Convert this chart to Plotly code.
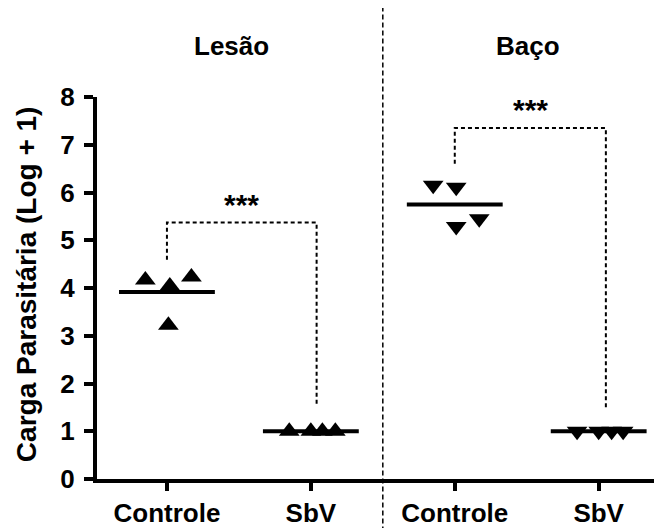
import plotly.graph_objects as go

# ---------------- data ----------------
categories = ["Controle", "SbV", "Controle", "SbV"]
group_titles = ["Lesão", "Baço"]
lesao_controle = [4.17, 4.04, 4.23, 3.22]
lesao_sbv = [1.0, 1.0, 1.0, 1.0]
baco_controle = [6.15, 6.11, 5.45, 5.29]
baco_sbv = [1.0, 1.0, 1.0, 1.0]
jitter_lesao_controle = [-0.15, 0.02, 0.17, 0.01]
jitter_lesao_sbv = [-0.15, 0.0, 0.08, 0.17]
jitter_baco_controle = [-0.15, 0.01, 0.17, 0.01]
jitter_baco_sbv = [-0.15, 0.0, 0.09, 0.17]
y_ticks = [0, 1, 2, 3, 4, 5, 6, 7, 8]
sig_label = "***"
# bracket: (left x idx, right x idx, top y, left end y, right end y)
brackets = [
    (0.0, 1.04, 5.37, 4.59, 1.57),
    (2.0, 3.05, 7.35, 6.60, 1.46),
]
y_label = "Carga Parasitária (Log + 1)"

FONT = "Liberation Sans, Arial, sans-serif"
XMIN, XMAX = -0.486, 3.44

groups = [
    (0, lesao_controle, jitter_lesao_controle, "triangle-up"),
    (1, lesao_sbv, jitter_lesao_sbv, "triangle-up"),
    (2, baco_controle, jitter_baco_controle, "triangle-down"),
    (3, baco_sbv, jitter_baco_sbv, "triangle-down"),
]

fig = go.Figure()
for idx, vals, jit, sym in groups:
    fig.add_trace(go.Scatter(
        x=[idx + j for j in jit], y=vals, mode="markers",
        marker=dict(symbol=sym, size=18, color="black", line=dict(width=0)),
        showlegend=False, hoverinfo="skip", cliponaxis=False))
    m = sum(vals) / len(vals)
    fig.add_trace(go.Scatter(
        x=[idx - 0.333, idx + 0.333], y=[m, m], mode="lines",
        line=dict(color="black", width=4), showlegend=False, hoverinfo="skip"))

shapes = []
annotations = []
for (xl, xr, top, yl, yr) in brackets:
    shapes.append(dict(type="path", xref="x", yref="y",
                       path=f"M {xl},{yl} L {xl},{top} L {xr},{top} L {xr},{yr}",
                       line=dict(color="black", width=2, dash="4px,3px")))
    annotations.append(dict(x=(xl + xr) / 2, y=top, xref="x", yref="y",
                            text=sig_label, showarrow=False, yanchor="bottom",
                            yshift=0,
                            font=dict(family=FONT, size=30, color="black", weight="bold")))

# vertical separator between the two groups (paper coords derived from axis range)
sep_x = (1.5 - XMIN) / (XMAX - XMIN)
shapes.append(dict(type="line", xref="paper", yref="paper", x0=sep_x, x1=sep_x,
                   y0=-0.2, y1=1.4,
                   line=dict(color="black", width=1.5, dash="5px,3px")))

for i, t in enumerate(group_titles):
    cx = (0.45 if i == 0 else 2.51)
    annotations.append(dict(x=(cx - XMIN) / (XMAX - XMIN), y=1.134, xref="paper", yref="paper",
                            text=t, showarrow=False, xanchor="center", yanchor="middle",
                            font=dict(family=FONT, size=26, color="black", weight="bold")))

annotations.append(dict(x=-0.1257, y=0.51, xref="paper", yref="paper", text=y_label,
                        textangle=-90, showarrow=False, xanchor="center", yanchor="middle",
                        font=dict(family=FONT, size=28, color="black", weight="bold")))

# the page body adds an 8px offset; size the figure to fit the window
fig.update_layout(
    width=654, height=520,
    margin=dict(l=89, r=0, t=89, b=42),
    plot_bgcolor="white", paper_bgcolor="white",
    shapes=shapes, annotations=annotations,
    xaxis=dict(range=[XMIN, XMAX], tickvals=[0, 1, 2, 3], ticktext=categories,
               showline=True, linecolor="black", linewidth=4,
               ticks="outside", ticklen=8, tickwidth=4, tickcolor="black",
               showgrid=False, zeroline=False,
               tickfont=dict(family=FONT, size=26, color="black", weight="bold")),
    yaxis=dict(range=[0, 8], tickvals=y_ticks,
               showline=True, linecolor="black", linewidth=4,
               ticks="outside", ticklen=9, tickwidth=4, tickcolor="black",
               showgrid=False, zeroline=False, ticklabelstandoff=4,
               tickfont=dict(family=FONT, size=26, color="black", weight="bold")),
)

fig.write_html("out.html")
